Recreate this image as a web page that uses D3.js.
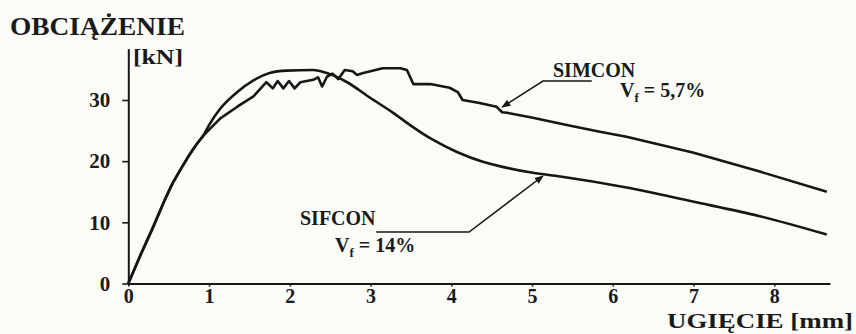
<!DOCTYPE html>
<html>
<head>
<meta charset="utf-8">
<script src="https://cdn.jsdelivr.net/npm/d3@7"></script>
<style>
  html, body { margin: 0; padding: 0; background: #fbfcf8; }
  svg { display: block; }
  text { font-family: "Liberation Serif", "Times New Roman", serif; font-weight: bold; fill: #1a1a1a; }
</style>
</head>
<body>
<svg id="chart" width="856" height="334"></svg>
<script>
// Load–deflection curves: deflection [mm] vs load [kN]
const xTicks = [0, 1, 2, 3, 4, 5, 6, 7, 8];
const yTicks = [0, 10, 20, 30];

// common elastic branch of both specimens
const sharedBranch = [
  [0, 0], [0.15, 4.6], [0.31, 9.3], [0.45, 13.6], [0.55, 16.4],
  [0.65, 18.7], [0.76, 21.1], [0.86, 23.0], [0.93, 24.2]
];

// SIMCON, Vf = 5.7 %
const simconTail = [
  [1.02, 25.4], [1.14, 27.0], [1.35, 28.9], [1.55, 30.6], [1.71, 32.9],
  [1.79, 31.9], [1.85, 33.1], [1.92, 31.9], [1.99, 33.1], [2.06, 31.9], [2.13, 32.9],
  [2.29, 33.3], [2.35, 33.7], [2.40, 32.2], [2.46, 33.8], [2.53, 34.3], [2.60, 33.4],
  [2.68, 34.9], [2.78, 34.7], [2.83, 34.1], [2.91, 34.4], [3.15, 35.2], [3.37, 35.2],
  [3.45, 34.9], [3.53, 32.6], [3.74, 32.6], [3.98, 32.0], [4.08, 31.3], [4.14, 30.0],
  [4.35, 29.5], [4.56, 28.9], [4.63, 28.0], [4.69, 27.9], [5.01, 27.1], [5.43, 25.9],
  [5.84, 24.8], [6.17, 24.0], [6.99, 21.4], [7.82, 18.3], [8.65, 15.0]
];

// SIFCON, Vf = 14 %
const sifconTail = [
  [1.00, 25.9], [1.14, 28.6], [1.35, 31.3], [1.55, 33.2], [1.75, 34.4], [1.96, 34.8],
  [2.29, 34.9], [2.46, 34.4], [2.71, 32.9], [2.99, 30.4], [3.28, 27.9], [3.49, 25.9],
  [3.77, 23.5], [4.07, 21.5], [4.39, 19.9], [4.69, 18.9], [5.01, 18.1], [5.35, 17.5],
  [6.17, 15.7], [6.99, 13.4], [7.82, 11.0], [8.65, 8.0]
];

const simcon = sharedBranch.concat(simconTail);
const sifcon = sharedBranch.concat(sifconTail);

// leader lines: label end -> knee -> arrow tip (data units)
const simconLeader = [[5.74, 33.1], [5.135, 33.1], [4.63, 28.85]];
const sifconLeader = [[3.07, 8.42], [4.22, 8.42], [5.135, 17.57]];

const svg = d3.select("#chart");
const x = d3.scaleLinear().domain([0, 8.69]).range([128.3, 830]);
const y = d3.scaleLinear().domain([0, 38.4]).range([283.5, 48.6]);

const ink = "#161616";

// axes
const xAxis = svg.append("g")
  .attr("transform", `translate(0,${y(0)})`)
  .call(d3.axisBottom(x).tickValues(xTicks).tickFormat(d3.format("d"))
    .tickSize(3).tickSizeOuter(0).tickPadding(2));
const yAxis = svg.append("g")
  .attr("transform", `translate(${x(0)},0)`)
  .call(d3.axisLeft(y).tickValues(yTicks).tickFormat(d3.format("d"))
    .tickSize(6).tickSizeOuter(0).tickPadding(12));

[xAxis, yAxis].forEach(g => {
  g.select(".domain").attr("stroke", ink).attr("stroke-width", 2);
  g.selectAll(".tick line").attr("stroke", ink).attr("stroke-width", 1.6);
  g.selectAll(".tick text")
    .attr("fill", "#1a1a1a")
    .style("font-family", '"Liberation Serif", "Times New Roman", serif')
    .style("font-weight", "bold");
});
xAxis.selectAll(".tick text").style("font-size", "20px");
yAxis.selectAll(".tick text").style("font-size", "21px");

// curves
const line = d3.line().x(d => x(d[0])).y(d => y(d[1]));
const smooth = d3.line().x(d => x(d[0])).y(d => y(d[1])).curve(d3.curveMonotoneX);

svg.append("path").datum(sifcon)
  .attr("d", smooth).attr("fill", "none")
  .attr("stroke", ink).attr("stroke-width", 2.6).attr("stroke-linejoin", "round");
svg.append("path").datum(simcon)
  .attr("d", line).attr("fill", "none")
  .attr("stroke", ink).attr("stroke-width", 2.6).attr("stroke-linejoin", "round");

// arrowhead marker
svg.append("defs").append("marker")
  .attr("id", "arrow").attr("viewBox", "0 0 10 10")
  .attr("refX", 9).attr("refY", 5)
  .attr("markerWidth", 9).attr("markerHeight", 9)
  .attr("markerUnits", "userSpaceOnUse")
  .attr("orient", "auto")
  .append("path").attr("d", "M0,1 L10,5 L0,9 Z").attr("fill", ink);

[simconLeader, sifconLeader].forEach(pts => {
  svg.append("path").datum(pts)
    .attr("d", line).attr("fill", "none")
    .attr("stroke", ink).attr("stroke-width", 1.5)
    .attr("marker-end", "url(#arrow)");
});

// axis titles
svg.append("text").attr("x", 10).attr("y", 35)
  .attr("textLength", 175).attr("lengthAdjust", "spacingAndGlyphs")
  .style("font-size", "25px").text("OBCIĄŻENIE");
svg.append("text").attr("x", 133).attr("y", 64)
  .attr("textLength", 50).attr("lengthAdjust", "spacingAndGlyphs")
  .style("font-size", "21px").text("[kN]");
svg.append("text").attr("x", 667).attr("y", 328)
  .attr("textLength", 186).attr("lengthAdjust", "spacingAndGlyphs")
  .style("font-size", "22px").text("UGIĘCIE [mm]");

// series labels
function vfLabel(px, py, value) {
  const t = svg.append("text").attr("x", px).attr("y", py).style("font-size", "20px");
  t.append("tspan").text("V");
  t.append("tspan").attr("dy", 5).style("font-size", "13px").text("f");
  t.append("tspan").attr("dy", -5).text(" = " + value);
}
svg.append("text").attr("x", 553).attr("y", 77).style("font-size", "20px").text("SIMCON");
vfLabel(620, 97, "5,7%");
svg.append("text").attr("x", 300).attr("y", 225).style("font-size", "20px").text("SIFCON");
vfLabel(335, 252, "14%");
</script>
</body>
</html>
